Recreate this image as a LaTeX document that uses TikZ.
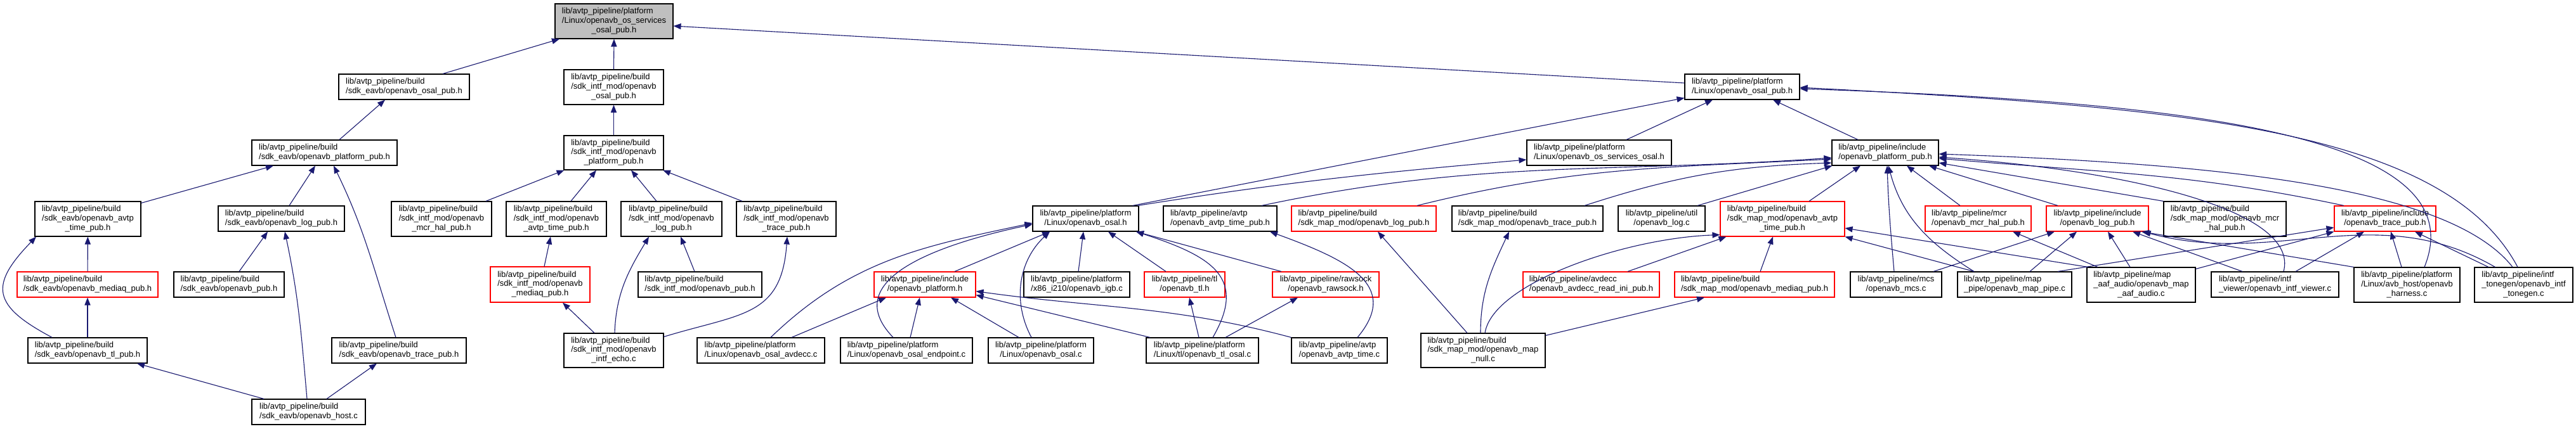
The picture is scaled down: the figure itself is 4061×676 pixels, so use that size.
\documentclass[tikz,border=0pt]{standalone}
\usepackage{fontspec}
\setmainfont{Liberation Sans}
\usetikzlibrary{arrows.meta,calc}
\definecolor{edgeblue}{RGB}{25,25,112}
\definecolor{maingray}{RGB}{191,191,191}
\newcommand{\twol}[2]{\begin{tabular}{@{}l@{}}#1\\\multicolumn{1}{@{}c@{}}{#2}\end{tabular}}
\newcommand{\threel}[3]{\begin{tabular}{@{}l@{}}#1\\#2\\\multicolumn{1}{@{}c@{}}{#3}\end{tabular}}
\begin{document}
\begin{tikzpicture}[x=0.25pt,y=-0.25pt,
  nbox/.style 2 args={draw=black, fill=white, line width=0.28pt, inner sep=0pt,
     minimum width=#1*0.25pt, minimum height=#2*0.25pt, font=\fontsize{3.25}{3.675}\selectfont},
  rbox/.style 2 args={nbox={#1}{#2}, draw=red},
  inc/.style={draw=edgeblue, line width=0.28pt, -{Triangle[length=3pt,width=2.3pt]}},
]
\useasboundingbox (0,0) rectangle (4061,676);
% rank 0
\node[nbox={186}{55}, fill=maingray] (main) at (968,33.5) {\threel{lib/avtp\_pipeline/platform}{/Linux/openavb\_os\_services}{\_osal\_pub.h}};
% rank 1
\node[nbox={206}{40}] (eavbosal) at (637,137) {\twol{lib/avtp\_pipeline/build}{/sdk\_eavb/openavb\_osal\_pub.h}};
\node[nbox={157}{55}] (intfosal) at (967.5,137.5) {\threel{lib/avtp\_pipeline/build}{/sdk\_intf\_mod/openavb}{\_osal\_pub.h}};
\node[nbox={181}{40}] (lxosalpub) at (2746.5,137) {\twol{lib/avtp\_pipeline/platform}{/Linux/openavb\_osal\_pub.h}};
% rank 2
\node[nbox={229}{40}] (eavbplat) at (511.5,241) {\twol{lib/avtp\_pipeline/build}{/sdk\_eavb/openavb\_platform\_pub.h}};
\node[nbox={157}{54}] (intfplat) at (967.5,241) {\threel{lib/avtp\_pipeline/build}{/sdk\_intf\_mod/openavb}{\_platform\_pub.h}};
\node[nbox={228}{40}] (ossvc) at (2521,241) {\twol{lib/avtp\_pipeline/platform}{/Linux/openavb\_os\_services\_osal.h}};
\node[nbox={168}{40}] (incplat) at (2972,241) {\twol{lib/avtp\_pipeline/include}{/openavb\_platform\_pub.h}};
% rank 3
\node[nbox={167}{55}] (eavbavtp) at (138.5,345.5) {\threel{lib/avtp\_pipeline/build}{/sdk\_eavb/openavb\_avtp}{\_time\_pub.h}};
\node[nbox={199}{40}] (eavblog) at (443.5,345) {\twol{lib/avtp\_pipeline/build}{/sdk\_eavb/openavb\_log\_pub.h}};
\node[nbox={158}{55}] (intfmcr) at (696,345.5) {\threel{lib/avtp\_pipeline/build}{/sdk\_intf\_mod/openavb}{\_mcr\_hal\_pub.h}};
\node[nbox={158}{55}] (intfavtp) at (877,345.5) {\threel{lib/avtp\_pipeline/build}{/sdk\_intf\_mod/openavb}{\_avtp\_time\_pub.h}};
\node[nbox={159}{55}] (intflog) at (1058.5,345.5) {\threel{lib/avtp\_pipeline/build}{/sdk\_intf\_mod/openavb}{\_log\_pub.h}};
\node[nbox={157}{55}] (intftrace) at (1239.5,345.5) {\threel{lib/avtp\_pipeline/build}{/sdk\_intf\_mod/openavb}{\_trace\_pub.h}};
\node[nbox={167}{40}] (osalh) at (1711.5,345) {\twol{lib/avtp\_pipeline/platform}{/Linux/openavb\_osal.h}};
\node[nbox={179}{40}] (avtptimepub) at (1923.5,345) {\twol{lib/avtp\_pipeline/avtp}{/openavb\_avtp\_time\_pub.h}};
\node[rbox={228}{40}] (maplog) at (2150,345) {\twol{lib/avtp\_pipeline/build}{/sdk\_map\_mod/openavb\_log\_pub.h}};
\node[nbox={238}{40}] (maptrace) at (2408,345) {\twol{lib/avtp\_pipeline/build}{/sdk\_map\_mod/openavb\_trace\_pub.h}};
\node[nbox={137}{40}] (utillog) at (2619.5,345) {\twol{lib/avtp\_pipeline/util}{/openavb\_log.c}};
\node[rbox={196}{55}] (mapavtp) at (2810,345.5) {\threel{lib/avtp\_pipeline/build}{/sdk\_map\_mod/openavb\_avtp}{\_time\_pub.h}};
\node[rbox={167}{40}] (mcrhal) at (3118.5,345) {\twol{lib/avtp\_pipeline/mcr}{/openavb\_mcr\_hal\_pub.h}};
\node[rbox={161}{40}] (inclog) at (3306.5,345) {\twol{lib/avtp\_pipeline/include}{/openavb\_log\_pub.h}};
\node[nbox={193}{55}] (mapmcr) at (3507.5,345.5) {\threel{lib/avtp\_pipeline/build}{/sdk\_map\_mod/openavb\_mcr}{\_hal\_pub.h}};
\node[rbox={160}{40}] (inctrace) at (3760,345) {\twol{lib/avtp\_pipeline/include}{/openavb\_trace\_pub.h}};
% rank 4
\node[rbox={222}{40}] (eavbmediaq) at (138,449) {\twol{lib/avtp\_pipeline/build}{/sdk\_eavb/openavb\_mediaq\_pub.h}};
\node[nbox={174}{40}] (eavbpub) at (361,449) {\twol{lib/avtp\_pipeline/build}{/sdk\_eavb/openavb\_pub.h}};
\node[rbox={157}{56}] (intfmediaq) at (851.5,449) {\threel{lib/avtp\_pipeline/build}{/sdk\_intf\_mod/openavb}{\_mediaq\_pub.h}};
\node[nbox={195}{40}] (intfpub) at (1103.5,449) {\twol{lib/avtp\_pipeline/build}{/sdk\_intf\_mod/openavb\_pub.h}};
\node[rbox={160}{40}] (plath) at (1458,449) {\twol{lib/avtp\_pipeline/include}{/openavb\_platform.h}};
\node[nbox={167}{40}] (igb) at (1697.5,449) {\twol{lib/avtp\_pipeline/platform}{/x86\_i210/openavb\_igb.c}};
\node[rbox={127}{40}] (tlh) at (1867.5,449) {\twol{lib/avtp\_pipeline/tl}{/openavb\_tl.h}};
\node[rbox={168}{40}] (rawsock) at (2090,449) {\twol{lib/avtp\_pipeline/rawsock}{/openavb\_rawsock.h}};
\node[rbox={215}{40}] (avdeccini) at (2508.5,449) {\twol{lib/avtp\_pipeline/avdecc}{/openavb\_avdecc\_read\_ini\_pub.h}};
\node[rbox={252}{40}] (mapmediaq) at (2766,449) {\twol{lib/avtp\_pipeline/build}{/sdk\_map\_mod/openavb\_mediaq\_pub.h}};
\node[nbox={144}{40}] (mcs) at (2989,449) {\twol{lib/avtp\_pipeline/mcs}{/openavb\_mcs.c}};
\node[nbox={180}{40}] (mappipe) at (3176,449) {\twol{lib/avtp\_pipeline/map}{\_pipe/openavb\_map\_pipe.c}};
\node[nbox={171}{55}] (aaf) at (3375.5,449.5) {\threel{lib/avtp\_pipeline/map}{\_aaf\_audio/openavb\_map}{\_aaf\_audio.c}};
\node[nbox={201}{40}] (viewer) at (3586.5,449) {\twol{lib/avtp\_pipeline/intf}{\_viewer/openavb\_intf\_viewer.c}};
\node[nbox={167}{55}] (harness) at (3794.5,449.5) {\threel{lib/avtp\_pipeline/platform}{/Linux/avb\_host/openavb}{\_harness.c}};
\node[nbox={155}{55}] (tonegen) at (3978.5,449.5) {\threel{lib/avtp\_pipeline/intf}{\_tonegen/openavb\_intf}{\_tonegen.c}};
% rank 5
\node[nbox={188}{40}] (eavbtl) at (138,553) {\twol{lib/avtp\_pipeline/build}{/sdk\_eavb/openavb\_tl\_pub.h}};
\node[nbox={212}{40}] (eavbtrace) at (629,553) {\twol{lib/avtp\_pipeline/build}{/sdk\_eavb/openavb\_trace\_pub.h}};
\node[nbox={157}{54}] (intfecho) at (967.5,553) {\threel{lib/avtp\_pipeline/build}{/sdk\_intf\_mod/openavb}{\_intf\_echo.c}};
\node[nbox={201}{40}] (osalavdecc) at (1199.5,553) {\twol{lib/avtp\_pipeline/platform}{/Linux/openavb\_osal\_avdecc.c}};
\node[nbox={208}{40}] (endpoint) at (1429,553) {\twol{lib/avtp\_pipeline/platform}{/Linux/openavb\_osal\_endpoint.c}};
\node[nbox={166}{40}] (osalc) at (1641,553) {\twol{lib/avtp\_pipeline/platform}{/Linux/openavb\_osal.c}};
\node[nbox={177}{40}] (tlosal) at (1895.5,553) {\twol{lib/avtp\_pipeline/platform}{/Linux/tl/openavb\_tl\_osal.c}};
\node[nbox={151}{40}] (avtptimec) at (2111.5,553) {\twol{lib/avtp\_pipeline/avtp}{/openavb\_avtp\_time.c}};
\node[nbox={196}{54}] (mapnull) at (2338,553) {\threel{lib/avtp\_pipeline/build}{/sdk\_map\_mod/openavb\_map}{\_null.c}};
% rank 6
\node[nbox={179}{40}] (eavbhost) at (486.5,650) {\twol{lib/avtp\_pipeline/build}{/sdk\_eavb/openavb\_host.c}};

% ---- edges: top
\draw[inc] ($(eavbosal.north)+(61,0)$) -- ($(main.south)+(-86,0)$);
\draw[inc] (intfosal.north) -- (main.south);
\draw[inc] ($(lxosalpub.west)+(0,-6)$) -- ($(main.east)+(0,7.5)$);
% eavb
\draw[inc] ($(eavbplat.north)+(23.5,0)$) -- ($(eavbosal.south)+(-30,0)$);
\draw[inc] ($(eavbavtp.north east)+(0,3)$) -- ($(eavbplat.south)+(-80.5,0)$);
\draw[inc] ($(eavblog.north)+(12.5,0)$) -- ($(eavbplat.south)+(-14.5,0)$);
\draw[inc] ($(eavbtrace.north)+(-5,0)$) to[out=108,in=-64] ($(eavbplat.south)+(14.5,0)$);
\draw[inc] (eavbmediaq) -- (eavbavtp);
\draw[inc] ($(eavbtl.north)+(-56,0)$) to[out=152,in=-134,looseness=1.7] ($(eavbavtp.south)+(-81.5,0)$);
\draw[inc] (eavbtl) -- (eavbmediaq);
\draw[inc] ($(eavbpub.north)+(16,0)$) -- ($(eavblog.south)+(-21.5,0)$);
\draw[inc] ($(eavbhost.north)+(-2.5,0)$) to[out=95,in=-78] ($(eavblog.south)+(5.5,0)$);
\draw[inc] ($(eavbhost.north)+(-70.5,0)$) -- ($(eavbtl.south)+(78,0)$);
\draw[inc] ($(eavbhost.north)+(28.5,0)$) -- ($(eavbtrace.south)+(-35,0)$);
% intf
\draw[inc] (intfplat) -- (intfosal);
\draw[inc] ($(intfmcr.north)+(70,0)$) -- ($(intfplat.south)+(-78,0)$);
\draw[inc] ($(intfavtp.north)+(23,0)$) -- ($(intfplat.south)+(-27.5,0)$);
\draw[inc] ($(intflog.north)+(-23.5,0)$) -- ($(intfplat.south)+(27.5,0)$);
\draw[inc] ($(intftrace.north)+(-69.5,0)$) -- ($(intfplat.south)+(77.5,0)$);
\draw[inc] ($(intfmediaq.north)+(6.5,0)$) -- ($(intfavtp.south)+(-9,0)$);
\draw[inc] ($(intfecho.north)+(1.5,0)$) to[out=88,in=-121] ($(intflog.south)+(-35.5,0)$);
\draw[inc] ($(intfpub.north)+(-8.5,0)$) -- ($(intflog.south)+(14.5,0)$);
\draw[inc] ($(intfecho.north east)+(0,6)$) to[out=17,in=-94,looseness=1.3] ($(intftrace.south)+(1.5,0)$);
\draw[inc] ($(intfecho.north)+(-30.5,0)$) -- ($(intfmediaq.south)+(35.5,0)$);
% linux osal pub
\draw[inc] ($(ossvc.north)+(43,0)$) -- ($(lxosalpub.south)+(-46.5,0)$);
\draw[inc] ($(incplat.north)+(-43,0)$) -- ($(lxosalpub.south)+(48.5,0)$);
\draw[inc] ($(osalh.north east)+(-10,0)$) -- ($(lxosalpub.south west)+(0,-3)$);
\draw[inc] ($(osalh.north east)+(-2,0)$) to[out=9,in=185] ($(ossvc.west)+(0,11)$);
% into include/openavb_platform_pub.h from the left
\draw[inc] ($(avtptimepub.north)+(65.5,0)$) to[out=12,in=184] ($(incplat.west)+(0,8)$);
\draw[inc] ($(maplog.north)+(84,0)$) to[out=14,in=183] ($(incplat.west)+(0,10)$);
\draw[inc] ($(maptrace.north)+(90,0)$) to[out=18,in=182] ($(incplat.west)+(0,16)$);
\draw[inc] ($(utillog.north)+(56.5,0)$) -- ($(incplat.south west)+(1,0)$);
% into osal.h
\draw[inc] ($(osalavdecc.north)+(15.5,0)$) to[out=44,in=192] ($(osalh.west)+(0,7)$);
\draw[inc] ($(osalavdecc.north)+(48.5,0)$) -- ($(plath.south)+(-61,0)$);
\draw[inc] ($(endpoint.north)+(-21,0)$) to[out=134,in=192,out distance=32pt,in distance=37pt] ($(osalh.west)+(0,9)$);
\draw[inc] ($(endpoint.north)+(6,0)$) -- ($(plath.south)+(-8,0)$);
\draw[inc] ($(osalc.north)+(-35,0)$) -- ($(plath.south)+(41,0)$);
\draw[inc] ($(osalc.north)+(-15,0)$) to[out=118,in=-137] ($(osalh.south)+(-56.5,0)$);
\draw[inc] ($(tlosal.north)+(-82.5,0)$) -- ($(plath.south east)+(0,-4)$);
\draw[inc] ($(tlosal.north)+(-5.5,0)$) -- ($(tlh.south)+(7.5,0)$);
\draw[inc] ($(tlosal.north)+(16.5,0)$) to[out=60,in=-18,out distance=27pt,in distance=32pt] ($(osalh.south)+(79.5,0)$);
\draw[inc] ($(tlosal.north)+(36.5,0)$) -- ($(rawsock.south)+(-44,0)$);
\draw[inc] (avtptimec.north west) to[out=165,in=-8] ($(plath.south east)+(0,-10)$);
\draw[inc] ($(avtptimec.north)+(28.5,0)$) to[out=50,in=-20,out distance=27pt,in distance=32pt] ($(avtptimepub.south)+(78.5,0)$);
\draw[inc] ($(rawsock.north)+(-70,0)$) -- ($(osalh.south)+(79.5,0)$);
\draw[inc] ($(plath.north)+(47,0)$) -- ($(osalh.south)+(-56.5,0)$);
\draw[inc] ($(igb.north)+(2.5,0)$) -- ($(osalh.south)+(-3.5,0)$);
\draw[inc] ($(tlh.north)+(-29.5,0)$) -- ($(osalh.south)+(35.5,0)$);
% right part: into Linux/openavb_osal_pub.h
\draw[inc] ($(harness.north)+(27.5,0)$) to[out=68,in=-2,out distance=57pt,in distance=150pt] ($(lxosalpub.east)+(0,3)$);
\draw[inc] ($(tonegen.north)+(-9.5,0)$) to[out=118,in=-3,out distance=62pt,in distance=150pt] ($(lxosalpub.east)+(0,1)$);
% into include/openavb_platform_pub.h from the right and below
\draw[inc] ($(tonegen.north)+(-17.5,0)$) to[out=128,in=-2,out distance=40pt,in distance=112pt] ($(incplat.east)+(0,2)$);
\draw[inc] ($(viewer.north)+(13.5,0)$) to[out=75,in=-4,out distance=25pt,in distance=75pt] ($(incplat.east)+(0,7)$);
\draw[inc] ($(inctrace.north)+(-65,0)$) to[out=168,in=-5] ($(incplat.east)+(0,9)$);
\draw[inc] (mapmcr.north west) -- ($(incplat.east)+(0,16)$);
\draw[inc] ($(mapavtp.north)+(42,0)$) -- ($(incplat.south)+(-39,0)$);
\draw[inc] ($(mcs.north)+(-3,0)$) to[out=95,in=-88] ($(incplat.south)+(3,0)$);
\draw[inc] ($(mappipe.north)+(-64,0)$) to[out=148,in=-75] ($(incplat.south)+(5,0)$);
\draw[inc] ($(mcrhal.north)+(-28.5,0)$) -- ($(incplat.south)+(34,0)$);
\draw[inc] ($(inclog.north)+(-62.5,0)$) -- ($(incplat.south)+(69,0)$);
% into include/openavb_log_pub.h
\draw[inc] ($(mcs.north)+(59,0)$) -- ($(inclog.south)+(-67.5,0)$);
\draw[inc] ($(mappipe.north)+(24,0)$) -- ($(inclog.south)+(-32.5,0)$);
\draw[inc] ($(aaf.north)+(-17.5,0)$) -- ($(inclog.south)+(16.5,0)$);
\draw[inc] ($(viewer.north)+(-51.5,0)$) -- ($(inclog.south)+(55.5,0)$);
\draw[inc] (harness.north west) -- ($(inclog.south)+(69.5,0)$);
\draw[inc] ($(tonegen.north)+(-45,0)$) to[out=150,in=-15] ($(inclog.south)+(72,0)$);
% others
\draw[inc] ($(aaf.north)+(-68.5,0)$) -- ($(mcrhal.south)+(54.5,0)$);
\draw[inc] ($(aaf.north west)+(2,0)$) -- ($(mapavtp.east)+(0,14.5)$);
\draw[inc] ($(mappipe.north)+(-64,0)$) -- (mapavtp.south east);
\draw[inc] ($(mappipe.north)+(68,0)$) -- ($(inctrace.west)+(0,14)$);
\draw[inc] ($(aaf.north east)+(0,3)$) -- (inctrace.south west);
\draw[inc] ($(viewer.north)+(32.5,0)$) -- ($(inctrace.south)+(-33,0)$);
\draw[inc] ($(harness.north)+(-8.5,0)$) -- ($(inctrace.south)+(9,0)$);
\draw[inc] ($(tonegen.north)+(-55.5,0)$) -- ($(inctrace.south)+(47,0)$);
% map mod
\draw[inc] ($(avdeccini.north)+(57.5,0)$) -- ($(mapavtp.south west)+(10,0)$);
\draw[inc] ($(mapnull.north)+(3,0)$) to[out=81,in=182,out distance=20pt,in distance=37pt] ($(mapavtp.south west)+(0,-3)$);
\draw[inc] ($(mapnull.north)+(-25,0)$) -- ($(maplog.south)+(22,0)$);
\draw[inc] ($(mapnull.north)+(-4,0)$) to[out=90,in=-115] ($(maptrace.south)+(-29,0)$);
\draw[inc] ($(mapnull.north east)+(0,4)$) -- ($(mapmediaq.south)+(-79,0)$);
\draw[inc] ($(mapmediaq.north)+(9,0)$) -- ($(mapavtp.south)+(-15,0)$);
\end{tikzpicture}
\end{document}
